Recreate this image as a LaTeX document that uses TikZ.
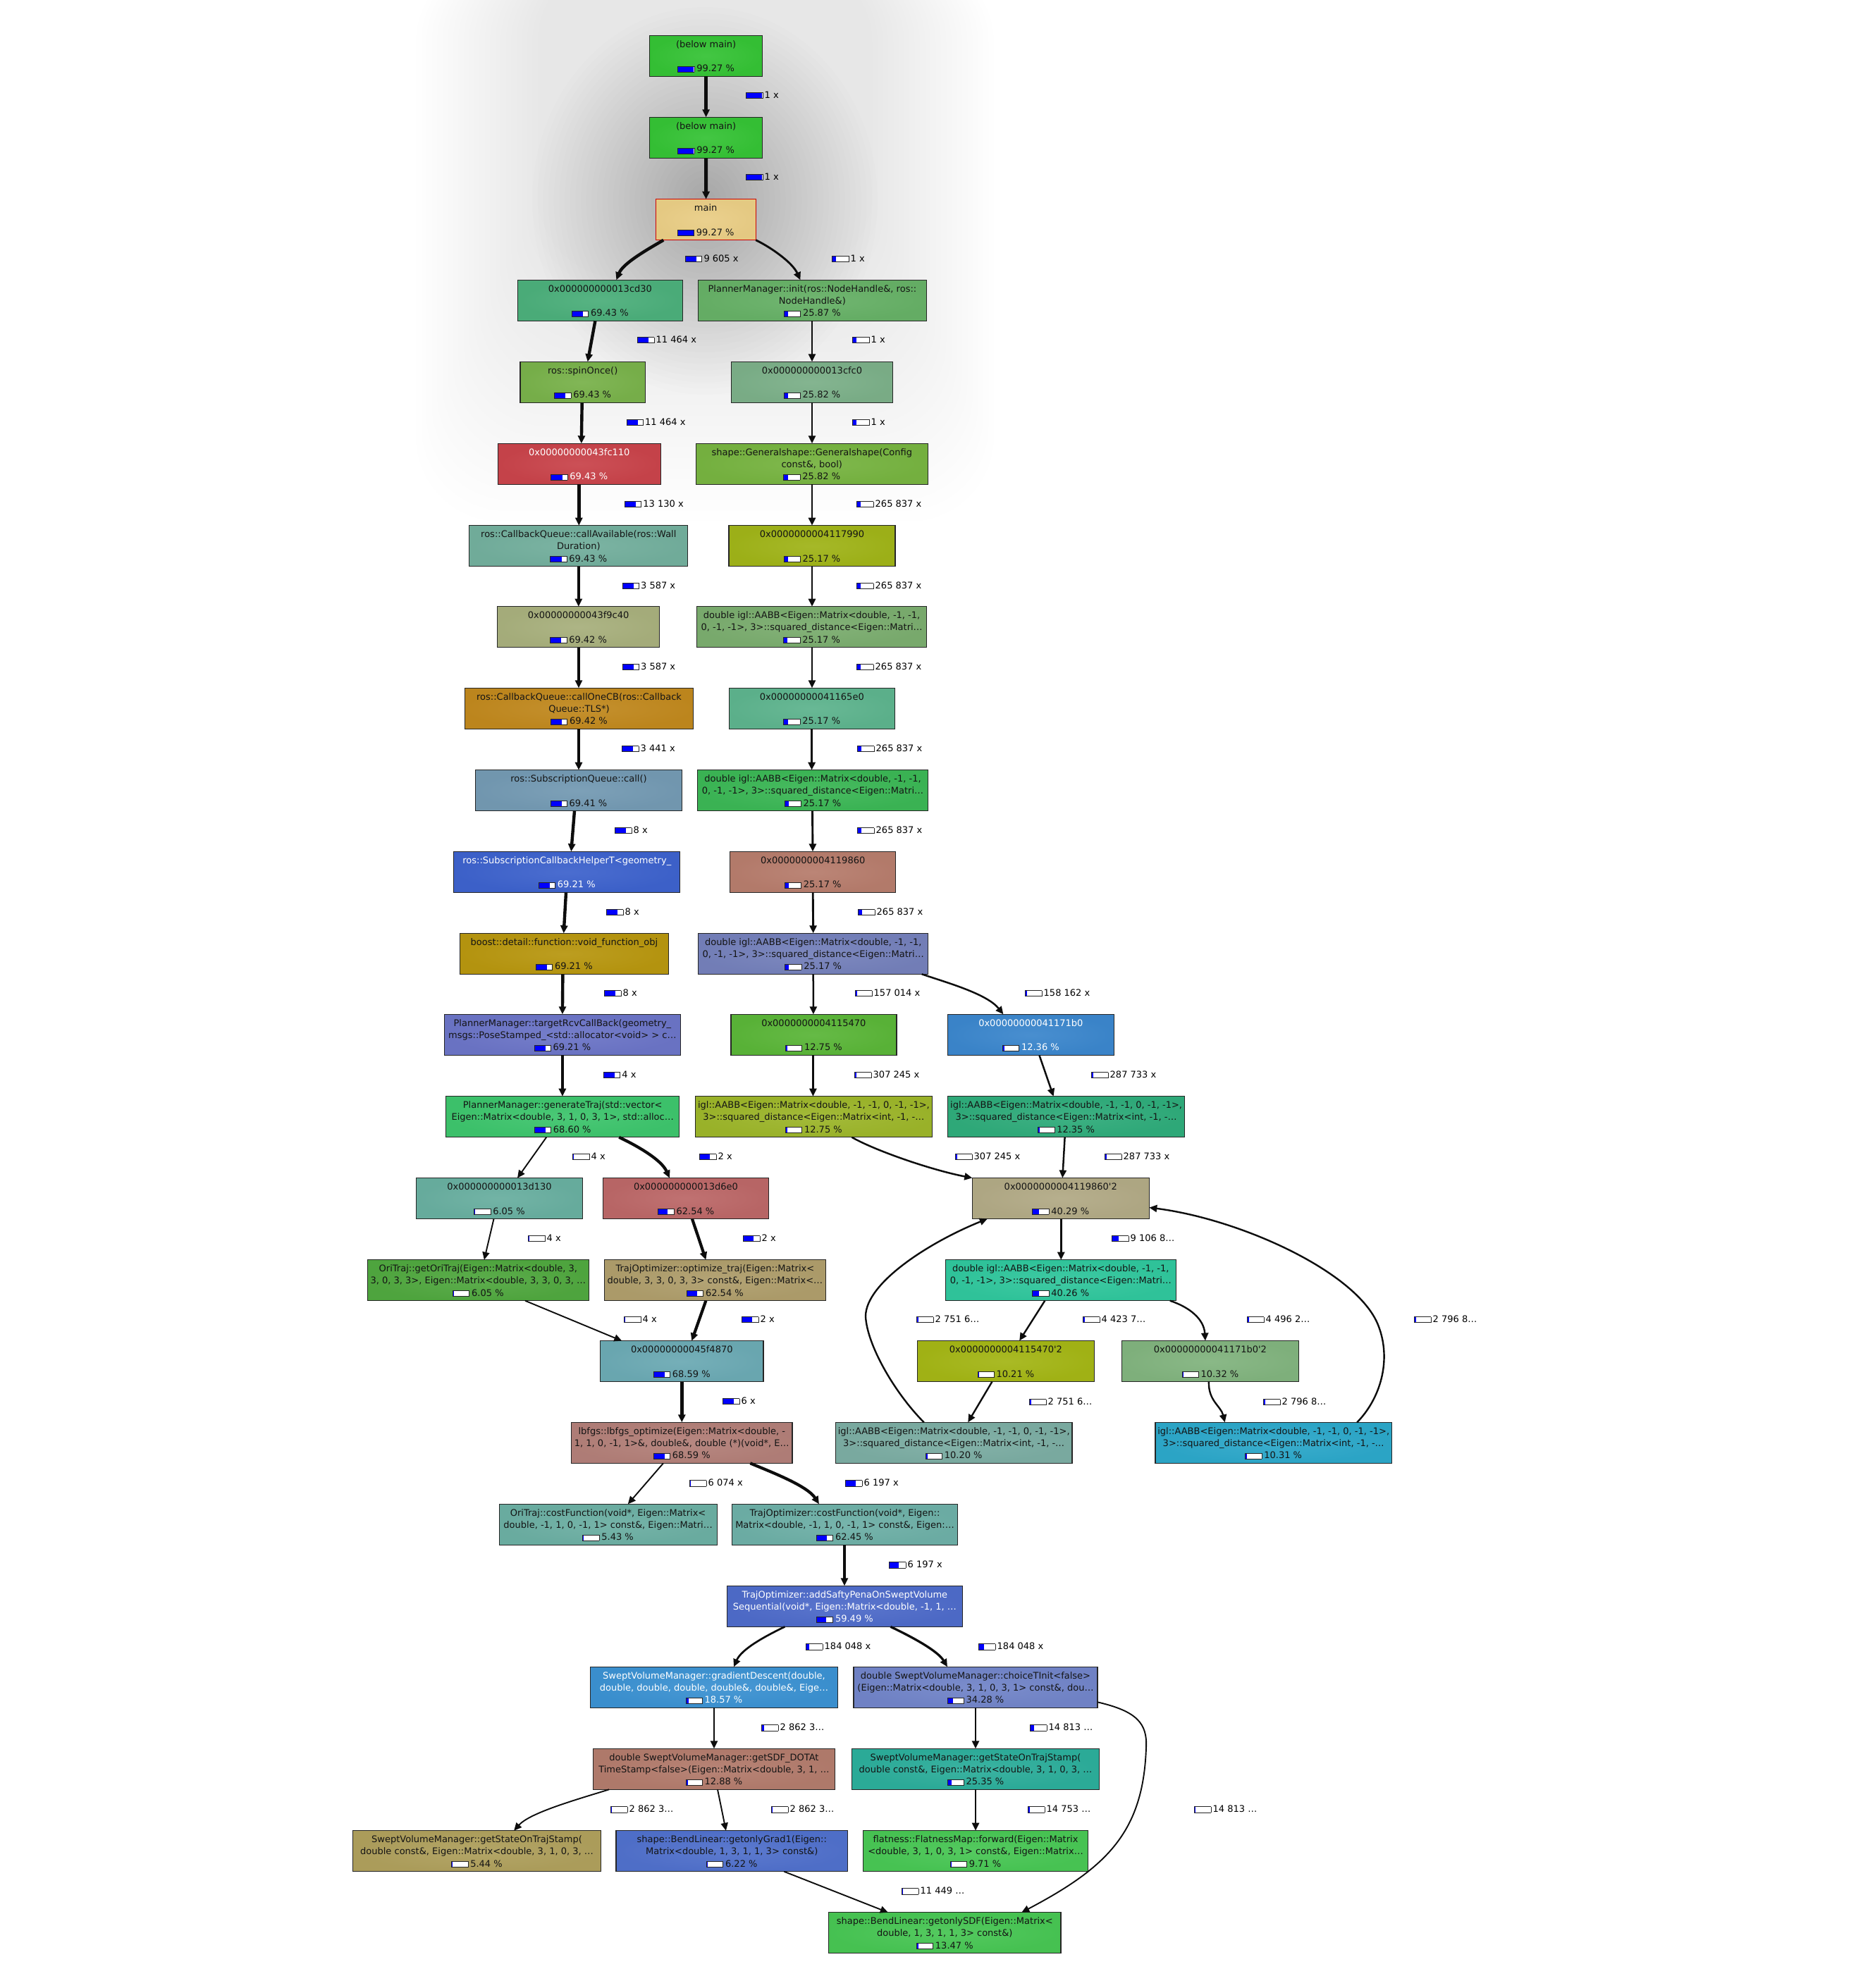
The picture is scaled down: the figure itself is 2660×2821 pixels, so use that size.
\documentclass[tikz,border=0pt]{standalone}
\usepackage{fontspec}
\setmainfont{DejaVu Sans}
\usetikzlibrary{arrows.meta,calc}
\newcommand\nfont{\fontsize{13}{15.6}\selectfont}
\colorlet{txtc}{black!92}
\definecolor{pblue}{HTML}{0000FF}
\definecolor{cBM}{HTML}{35C235}
\definecolor{cMain}{HTML}{E9CD85}
\definecolor{cA}{HTML}{4BAE7A}
\definecolor{cB}{HTML}{66B066}
\definecolor{cC}{HTML}{78B14A}
\definecolor{cD}{HTML}{7BAF88}
\definecolor{cE}{HTML}{C8434A}
\definecolor{cF}{HTML}{76B340}
\definecolor{cG}{HTML}{72AE9C}
\definecolor{cH}{HTML}{9FB318}
\definecolor{cI}{HTML}{A7AF7C}
\definecolor{cJ}{HTML}{7AAC6E}
\definecolor{cK}{HTML}{C0881E}
\definecolor{cL}{HTML}{5DB38D}
\definecolor{cM}{HTML}{7399B2}
\definecolor{cN}{HTML}{3BB655}
\definecolor{cO}{HTML}{3D62CC}
\definecolor{cP}{HTML}{B67C6C}
\definecolor{cQ}{HTML}{B7960F}
\definecolor{cR}{HTML}{7480BA}
\definecolor{cS}{HTML}{6B74C6}
\definecolor{cT}{HTML}{5AB538}
\definecolor{cU}{HTML}{3B86CC}
\definecolor{cV}{HTML}{3DC46C}
\definecolor{cW}{HTML}{9CB52A}
\definecolor{cX}{HTML}{2FAB7A}
\definecolor{cY}{HTML}{68AE9F}
\definecolor{cZ}{HTML}{BB6767}
\definecolor{dA}{HTML}{B1A985}
\definecolor{dB}{HTML}{50A73F}
\definecolor{dC}{HTML}{AE9D6B}
\definecolor{dD}{HTML}{30C69C}
\definecolor{dE}{HTML}{6BA9B3}
\definecolor{dF}{HTML}{A3B515}
\definecolor{dG}{HTML}{81B37E}
\definecolor{dH}{HTML}{B27F78}
\definecolor{dI}{HTML}{7BACA2}
\definecolor{dJ}{HTML}{2CA7C9}
\definecolor{dK}{HTML}{6BAEA2}
\definecolor{dL}{HTML}{6DAFA6}
\definecolor{dM}{HTML}{4E6BC9}
\definecolor{dN}{HTML}{3B91D1}
\definecolor{dO}{HTML}{7184C8}
\definecolor{dP}{HTML}{B27B6C}
\definecolor{dQ}{HTML}{2CAD9A}
\definecolor{dR}{HTML}{AE9F5C}
\definecolor{dS}{HTML}{5070CB}
\definecolor{dT}{HTML}{48C654}
\definecolor{dU}{HTML}{47C553}
\newcommand\dbla{double igl::AABB<Eigen::Matrix<double, -1, -1,}
\newcommand\dblb{0, -1, -1>, 3>::squared\_distance<Eigen::Matri…}
\newcommand\igla{igl::AABB<Eigen::Matrix<double, -1, -1, 0, -1, -1>,}
\newcommand\iglb{3>::squared\_distance<Eigen::Matrix<int, -1, -…}
\newcommand\pbar[1]{%
  \pgfmathsetmacro\pbw{max(0,22.6*#1/100-0.3)}%
  {\setlength{\fboxsep}{0pt}\setlength{\fboxrule}{0.7pt}%
  \fcolorbox{black!85}{white}{\makebox[22.6pt][l]{\textcolor{pblue}{\rule{\pbw pt}{7.6pt}}}}}}
\tikzset{
  fbox/.style={draw=black!85, line width=1.2pt, minimum height=58pt, inner sep=0pt, outer sep=0pt},
  ftext/.style={anchor=base, inner sep=0pt, font=\nfont},
  elab/.style={anchor=west, inner sep=0pt, font=\nfont, text=black},
  edge/.style={draw=black!95, -{Triangle[length=11pt,width=10pt]}},
  e99/.style={edge, line width=5pt},
  e69/.style={edge, line width=4.4pt},
  e62/.style={edge, line width=4.2pt},
  e59/.style={edge, line width=4.1pt},
  e40/.style={edge, line width=3.5pt},
  e34/.style={edge, line width=3.3pt},
  e25/.style={edge, line width=2.9pt},
  e18/.style={edge, line width=2.7pt},
  e12/.style={edge, line width=2.5pt},
  e10/.style={edge, line width=2.4pt},
  e6/.style={edge, line width=1.9pt}
}
% #1 text colour, #2 name, #3 cx, #4 top, #5 width, #6 colour, #7 line1, #8 line2, #9 percent
\newcommand\fn[9][txtc]{%
  \node[fbox, minimum width=#5pt, inner color=#6!93!white, outer color=#6!98!black, anchor=north] (#2) at (#3,#4) {};
  \node[ftext, text=#1] (#2-a) at ($(#2.north)+(0,17.2)$) {#7};
  \if\relax\detokenize{#8}\relax\else
  \node[ftext, text=#1] (#2-b) at ($(#2.north)+(0,33.9)$) {#8};\fi
  \node[ftext, text=#1] (#2-p) at ($(#2.north)+(0,51.6)$) {\pbar{#9}\hspace{3pt}#9 \%};
}
\newcommand\se[5]{\draw[#1] ($(#2.south)+(#3,0)$) -- ($(#4.north)+(#5,0)$);}
\newcommand\el[5]{\node[elab] (#1) at (#2,#3) {\pbar{#4}\hspace{2.5pt}#5};}
\begin{document}
\begin{tikzpicture}[x=1pt,y=-1pt]
\useasboundingbox (0,0) rectangle (2660,2821);
\fill[white] (0,0) rectangle (2660,2821);
% background shadow
\foreach \k in {0,...,23} {\fill[black, opacity=0.0055, rounded corners=120pt] ({590+7.5*\k},-60) rectangle ({1410-7.5*\k},{740-15*\k});}
\foreach \k in {1,...,32} {\fill[black, opacity=0.0085] (1000,285) ellipse ({245*\k/32} and {275*\k/32});}

% nodes
\fn{bma}{1001.6}{50.3}{160}{cBM}{(below main)}{}{99.27}
\fn{bmb}{1001.6}{166.3}{160}{cBM}{(below main)}{}{99.27}
\fn{main}{1001.2}{282.7}{142}{cMain}{main}{}{99.27}
\draw[red!80!black, line width=1.2pt] (main.north west) rectangle (main.south east);
\fn{ncdt}{851.4}{397.3}{234}{cA}{0x000000000013cd30}{}{69.43}
\fn{init}{1152.4}{397.3}{324}{cB}{PlannerManager::init(ros::NodeHandle\&, ros::}{NodeHandle\&)}{25.87}
\fn{spin}{826.7}{513.3}{177.5}{cC}{ros::spinOnce()}{}{69.43}
\fn{ncfc}{1152}{513.3}{229}{cD}{0x000000000013cfc0}{}{25.82}
\fn[white]{nfcl}{821.8}{629.3}{231}{cE}{0x00000000043fc110}{}{69.43}
\fn{gens}{1151.8}{629.3}{329}{cF}{shape::Generalshape::Generalshape(Config}{const\&, bool)}{25.82}
\fn{cava}{820.8}{745.7}{310}{cG}{ros::CallbackQueue::callAvailable(ros::Wall}{Duration)}{69.43}
\fn{nsvn}{1152}{745.7}{236}{cH}{0x0000000004117990}{}{25.17}
\fn{nfc}{820.6}{860.7}{230.5}{cI}{0x00000000043f9c40}{}{69.42}
\fn{iga}{1151.6}{860.7}{326.5}{cJ}{\dbla}{\dblb}{25.17}
\fn{cone}{821.5}{976.3}{324}{cK}{ros::CallbackQueue::callOneCB(ros::Callback}{Queue::TLS*)}{69.42}
\fn{nsfe}{1151.8}{976.3}{235}{cL}{0x00000000041165e0}{}{25.17}
\fn{sqc}{821}{1092.7}{293}{cM}{ros::SubscriptionQueue::call()}{}{69.41}
\fn{igb}{1153}{1092.7}{326.6}{cN}{\dbla}{\dblb}{25.17}
\fn[white]{scht}{804.3}{1208.3}{321}{cO}{ros::SubscriptionCallbackHelperT<geometry\_}{}{69.21}
\fn{nnsx}{1153.2}{1208.3}{235}{cP}{0x0000000004119860}{}{25.17}
\fn{bst}{800.4}{1324.3}{296}{cQ}{boost::detail::function::void\_function\_obj}{}{69.21}
\fn{igc}{1153.7}{1324.3}{326}{cR}{\dbla}{\dblb}{25.17}
\fn{trc}{797.9}{1439.3}{335}{cS}{PlannerManager::targetRcvCallBack(geometry\_}{msgs::PoseStamped\_<std::allocator<void> > c…}{69.21}
\fn{nfsz}{1154.4}{1439.3}{235}{cT}{0x0000000004115470}{}{12.75}
\fn[white]{nseb}{1462.4}{1439.3}{236}{cU}{0x00000000041171b0}{}{12.36}
\fn{gent}{798.2}{1555.7}{331}{cV}{PlannerManager::generateTraj(std::vector<}{Eigen::Matrix<double, 3, 1, 0, 3, 1>, std::alloc…}{68.60}
\fn{igd}{1154.4}{1555.7}{336}{cW}{\igla}{\iglb}{12.75}
\fn{ige}{1512.6}{1555.7}{336}{cX}{\igla}{\iglb}{12.35}
\fn{ndot}{708.5}{1671.7}{236}{cY}{0x000000000013d130}{}{6.05}
\fn{ndse}{973}{1671.7}{235}{cZ}{0x000000000013d6e0}{}{62.54}
\fn{nnsy}{1504.8}{1671.5}{251}{dA}{0x0000000004119860\textquotesingle 2}{}{40.29}
\fn{gori}{678.4}{1787.7}{314}{dB}{OriTraj::getOriTraj(Eigen::Matrix<double, 3,}{3, 0, 3, 3>, Eigen::Matrix<double, 3, 3, 0, 3, …}{6.05}
\fn{optt}{1014.4}{1787.7}{314}{dC}{TrajOptimizer::optimize\_traj(Eigen::Matrix<}{double, 3, 3, 0, 3, 3> const\&, Eigen::Matrix<…}{62.54}
\fn{igf}{1504.8}{1787.7}{327}{dD}{\dbla}{\dblb}{40.26}
\fn{nffe}{967.3}{1902.7}{231.5}{dE}{0x00000000045f4870}{}{68.59}
\fn{nfsy}{1426.9}{1902.5}{251}{dF}{0x0000000004115470\textquotesingle 2}{}{10.21}
\fn{nsey}{1716.9}{1902.5}{251}{dG}{0x00000000041171b0\textquotesingle 2}{}{10.32}
\fn{lbf}{967.3}{2018.3}{313.4}{dH}{lbfgs::lbfgs\_optimize(Eigen::Matrix<double, -}{1, 1, 0, -1, 1>\&, double\&, double (*)(void*, E…}{68.59}
\fn{igg}{1353.2}{2018.3}{335.6}{dI}{\igla}{\iglb}{10.20}
\fn{igh}{1806.7}{2018.3}{335.5}{dJ}{\igla}{\iglb}{10.31}
\fn{ocf}{862.6}{2134.3}{309}{dK}{OriTraj::costFunction(void*, Eigen::Matrix<}{double, -1, 1, 0, -1, 1> const\&, Eigen::Matri…}{5.43}
\fn{tcf}{1198.5}{2134.3}{319.7}{dL}{TrajOptimizer::costFunction(void*, Eigen::}{Matrix<double, -1, 1, 0, -1, 1> const\&, Eigen:…}{62.45}
\fn[white]{asp}{1198.4}{2250.3}{333.6}{dM}{TrajOptimizer::addSaftyPenaOnSweptVolume}{Sequential(void*, Eigen::Matrix<double, -1, 1, …}{59.49}
\fn[white]{grd}{1013}{2365.3}{350.5}{dN}{SweptVolumeManager::gradientDescent(double,}{double, double, double, double\&, double\&, Eige…}{18.57}
\fn{cti}{1384}{2365.3}{346}{dO}{double SweptVolumeManager::choiceTInit<false>}{(Eigen::Matrix<double, 3, 1, 0, 3, 1> const\&, dou…}{34.28}
\fn{sdf}{1013}{2481.3}{343.7}{dP}{double SweptVolumeManager::getSDF\_DOTAt}{TimeStamp<false>(Eigen::Matrix<double, 3, 1, …}{12.88}
\fn{gsa}{1384}{2481.3}{351.3}{dQ}{SweptVolumeManager::getStateOnTrajStamp(}{double const\&, Eigen::Matrix<double, 3, 1, 0, 3, …}{25.35}
\fn{gsb}{676.5}{2597.7}{351.3}{dR}{SweptVolumeManager::getStateOnTrajStamp(}{double const\&, Eigen::Matrix<double, 3, 1, 0, 3, …}{5.44}
\fn{go1}{1038.3}{2597.7}{328.6}{dS}{shape::BendLinear::getonlyGrad1(Eigen::}{Matrix<double, 1, 3, 1, 1, 3> const\&)}{6.22}
\fn{flt}{1384}{2597.7}{319.3}{dT}{flatness::FlatnessMap::forward(Eigen::Matrix}{<double, 3, 1, 0, 3, 1> const\&, Eigen::Matrix…}{9.71}
\fn{osdf}{1340.3}{2713.7}{329.4}{dU}{shape::BendLinear::getonlySDF(Eigen::Matrix<}{double, 1, 3, 1, 1, 3> const\&)}{13.47}

% edges
\se{e99}{bma}{0}{bmb}{0}
\se{e99}{bmb}{0}{main}{0.4}
\draw[e69] ($(main.south)+(-60,0)$) .. controls (922,352) and (884,373) .. ($(ncdt.north)+(23,0)$);
\draw[e25] (main.south east) .. controls (1092,350) and (1124,372) .. ($(init.north)+(-17,0)$);
\se{e69}{ncdt}{-7}{spin}{7}
\se{e25}{init}{-0.4}{ncfc}{0}
\se{e69}{spin}{-1}{nfcl}{3}
\se{e25}{ncfc}{0}{gens}{0.2}
\se{e69}{nfcl}{-0.5}{cava}{0.5}
\se{e25}{gens}{0.2}{nsvn}{0}
\se{e69}{cava}{0}{nfc}{0.2}
\se{e25}{nsvn}{0}{iga}{0.4}
\se{e69}{nfc}{0.4}{cone}{-0.5}
\se{e25}{iga}{0.4}{nsfe}{0.2}
\se{e69}{cone}{-0.5}{sqc}{0}
\se{e25}{nsfe}{-0.2}{igb}{-1.4}
\se{e69}{sqc}{-6}{scht}{6}
\se{e25}{igb}{-0.5}{nnsx}{-0.2}
\se{e69}{scht}{-1.3}{bst}{-0.7}
\se{e25}{nnsx}{0}{igc}{0}
\se{e69}{bst}{-2}{trc}{0}
\se{e12}{igc}{0}{nfsz}{-0.5}
\draw[e12] ($(igc.south)+(154,0)$) .. controls (1342,1394) and (1400,1410) .. ($(nseb.north)+(-39,0)$);
\se{e69}{trc}{0}{gent}{-0.3}
\se{e12}{nfsz}{-1}{igd}{-1}
\se{e12}{nseb}{12}{ige}{-18}
\se{e6}{gent}{-23}{ndot}{25.5}
\draw[e62] ($(gent.south)+(80,0)$) .. controls (902,1625) and (938,1645) .. ($(ndse.north)+(-23,0)$);
\draw[e12] ($(igd.south)+(54,0)$) .. controls (1240,1632) and (1320,1660) .. (nnsy.north west);
\se{e12}{ige}{-2}{nnsy}{2.5}
\se{e6}{ndot}{-8}{gori}{8.5}
\se{e62}{ndse}{9}{optt}{-13}
\se{e40}{nnsy}{0.5}{igf}{0.5}
\se{e6}{gori}{66.6}{nffe}{-85}
\se{e62}{optt}{-13}{nffe}{14}
\se{e10}{igf}{-22.5}{nfsy}{19.3}
\draw[e10] ($(igf.south)+(155,0)$) .. controls (1688,1855) and (1708,1872) .. ($(nsey.north)+(-7,0)$);
\se{e10}{nfsy}{-19.4}{igg}{20}
\draw[e10] ($(nsey.south)+(-2,0)$) .. controls (1714,1988) and (1732,1995) .. ($(igh.north)+(-69,0)$);
\draw[e10] ($(igg.north)+(-42.5,0)$) .. controls (1268,1975) and (1230,1908) .. (1228,1868) .. controls (1228,1820) and (1320,1762) .. ($(nnsy.south)+(-104,0)$);
\draw[e10] ($(igh.north)+(118.5,0)$) .. controls (1958,1985) and (1975,1930) .. (1955,1880) .. controls (1925,1805) and (1760,1730) .. ($(nnsy.east)+(0,13)$);
\se{e69}{nffe}{0}{lbf}{0}
\se{e6}{lbf}{-26.3}{ocf}{28.2}
\draw[e62] ($(lbf.south)+(97,0)$) .. controls (1092,2088) and (1145,2108) .. ($(tcf.north)+(-36.5,0)$);
\se{e59}{tcf}{-0.5}{asp}{-0.4}
\draw[e18] ($(asp.south)+(-85,0)$) .. controls (1085,2322) and (1052,2340) .. ($(grd.north)+(28,0)$);
\draw[e34] ($(asp.south)+(65,0)$) .. controls (1292,2322) and (1330,2342) .. ($(cti.north)+(-40,0)$);
\se{e12}{grd}{0}{sdf}{0}
\se{e25}{cti}{0}{gsa}{0}
\draw[e6] ($(cti.east)+(0,21)$) .. controls (1612,2428) and (1628,2445) .. (1626,2480) .. controls (1622,2600) and (1570,2650) .. ($(osdf.north)+(109,0)$);
\draw[e6] ($(sdf.south)+(-149,0)$) .. controls (820,2553) and (752,2572) .. ($(gsb.north)+(52.6,0)$);
\se{e6}{sdf}{5}{go1}{-8.4}
\se{e10}{gsa}{0}{flt}{0}
\se{e6}{go1}{74}{osdf}{-80.5}

% edge labels
\el{l1}{1058}{135}{99.27}{1 x}
\el{l2}{1058}{251}{99.27}{1 x}
\el{l3}{971.8}{367}{69.43}{9 605 x}
\el{l4}{1180}{367}{25.87}{1 x}
\el{l5}{904}{482}{69.43}{11 464 x}
\el{l6}{1209}{482}{25.82}{1 x}
\el{l7}{888.5}{599}{69.43}{11 464 x}
\el{l8}{1209}{599}{25.82}{1 x}
\el{l9}{885.7}{715}{69.43}{13 130 x}
\el{l10}{1215}{715}{25.17}{265 837 x}
\el{l11}{882.4}{831}{69.42}{3 587 x}
\el{l12}{1215}{831}{25.17}{265 837 x}
\el{l13}{882.4}{946}{69.42}{3 587 x}
\el{l14}{1215}{946}{25.17}{265 837 x}
\el{l15}{882}{1062}{69.41}{3 441 x}
\el{l16}{1216}{1062}{25.17}{265 837 x}
\el{l17}{872}{1178}{69.21}{8 x}
\el{l18}{1216}{1178}{25.17}{265 837 x}
\el{l19}{860}{1294}{69.21}{8 x}
\el{l20}{1217}{1294}{25.17}{265 837 x}
\el{l21}{857}{1409}{69.21}{8 x}
\el{l22}{1213}{1409}{12.75}{157 014 x}
\el{l23}{1454}{1409}{12.36}{158 162 x}
\el{l24}{855.7}{1525}{68.60}{4 x}
\el{l25}{1212}{1525}{12.75}{307 245 x}
\el{l26}{1548}{1525}{12.35}{287 733 x}
\el{l27}{812}{1641}{6.05}{4 x}
\el{l28}{992}{1641}{62.54}{2 x}
\el{l29}{1355}{1641}{10}{307 245 x}
\el{l30}{1567}{1641}{10}{287 733 x}
\el{l31}{749}{1757}{6.05}{4 x}
\el{l32}{1054}{1757}{62.54}{2 x}
\el{l33}{1577}{1757}{40.26}{9 106 8…}
\el{l34}{885}{1872}{6.05}{4 x}
\el{l35}{1052}{1872}{62.54}{2 x}
\el{l36}{1300}{1872}{10}{2 751 6…}
\el{l37}{1536}{1872}{10.21}{4 423 7…}
\el{l38}{1769}{1872}{10.32}{4 496 2…}
\el{l39}{2006}{1872}{10}{2 796 8…}
\el{l40}{1025}{1988}{68.59}{6 x}
\el{l41}{1460}{1989}{10.2}{2 751 6…}
\el{l42}{1792}{1989}{10.3}{2 796 8…}
\el{l43}{978}{2104}{5.43}{6 074 x}
\el{l44}{1199}{2104}{62.45}{6 197 x}
\el{l45}{1261}{2220}{59.49}{6 197 x}
\el{l46}{1143}{2336}{18.57}{184 048 x}
\el{l47}{1388}{2336}{34.28}{184 048 x}
\el{l48}{1080}{2451}{12.88}{2 862 3…}
\el{l49}{1461}{2451}{25.35}{14 813 …}
\el{l50}{866}{2567}{5.44}{2 862 3…}
\el{l51}{1094}{2567}{6.22}{2 862 3…}
\el{l52}{1458}{2567}{9.71}{14 753 …}
\el{l53}{1694}{2567}{7}{14 813 …}
\el{l54}{1279}{2683}{6}{11 449 …}
\end{tikzpicture}
\end{document}
